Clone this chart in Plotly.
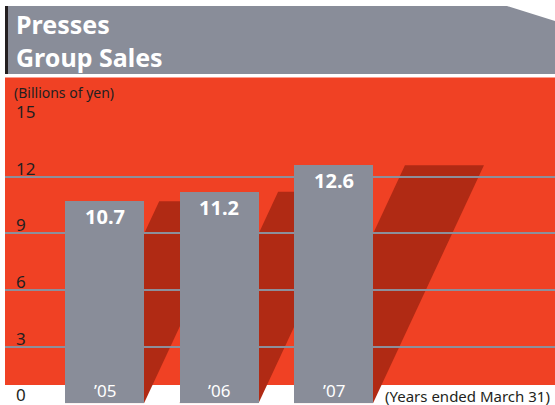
import plotly.graph_objects as go

# Presses Group sales, billions of yen
years = ["’05", "’06", "’07"]
sales = [10.7, 11.2, 12.6]
value_labels = ["10.7", "11.2", "12.6"]
y_ticks = [0, 3, 6, 9, 12, 15]
y_tick_labels = ["0", "3", "6", "9", "12", "15"]

RED = "#f04124"
SHADOW = "#b02a14"
GREY = "#898d99"
TEXT = "#231f20"
FONT = "Noto Sans"

W, H = 555, 405
BAR_W = 0.69          # bar width in category units
SHEAR = 0.0769        # horizontal lean of the shadow per unit of value

x_pos = list(range(len(years)))

fig = go.Figure()
fig.add_trace(go.Bar(
    x=x_pos, y=sales, width=BAR_W,
    marker=dict(color=GREY, line=dict(width=0)),
    hoverinfo="skip", cliponaxis=False,
))

shapes = []
# title banner with clipped top-right corner
shapes.append(dict(
    type="path", xref="paper", yref="paper", layer="below",
    path=f"M {5/W},{1-6/H} L {507/W},{1-6/H} L 1,{1-21/H} L 1,{1-74/H} L {5/W},{1-74/H} Z",
    fillcolor=GREY, line=dict(width=0),
))
shapes.append(dict(
    type="rect", xref="paper", yref="paper", layer="below",
    x0=5/W, x1=8/W, y0=1-74/H, y1=1-6/H,
    fillcolor="#231f20", line=dict(width=0),
))
# red panel behind the chart
shapes.append(dict(
    type="rect", xref="paper", yref="paper", layer="below",
    x0=5/W, x1=1, y0=1-385/H, y1=1-77.5/H,
    fillcolor=RED, line=dict(width=0),
))
# slanted shadows cast by each bar
for xi, v in zip(x_pos, sales):
    x0, x1 = xi - BAR_W/2, xi + BAR_W/2
    s = v * SHEAR
    shapes.append(dict(
        type="path", xref="x", yref="y", layer="below",
        path=f"M {x0},0 L {x1},0 L {x1+s},{v} L {x0+s},{v} Z",
        fillcolor=SHADOW, line=dict(width=0),
    ))

annotations = []
annotations.append(dict(
    xref="paper", yref="paper", x=14/W, y=1-40/H, xanchor="left", yanchor="middle",
    align="left", text="<b>Presses<br>Group Sales</b>", showarrow=False,
    font=dict(family=FONT, size=25, color="white"),
))
annotations.append(dict(
    xref="paper", yref="paper", x=12/W, y=1-92/H, xanchor="left", yanchor="middle",
    text="(Billions of yen)", showarrow=False,
    font=dict(family=FONT, size=14, color=TEXT),
))
annotations.append(dict(
    xref="paper", yref="paper", x=383/W, y=1-396/H, xanchor="left", yanchor="middle",
    text="(Years ended March 31)", showarrow=False,
    font=dict(family=FONT, size=15, color=TEXT),
))
for t, lab in zip(y_ticks, y_tick_labels):
    annotations.append(dict(
        xref="paper", yref="y", x=14/W, y=t, xanchor="left", yanchor="bottom",
        yshift=-5, text=lab, showarrow=False,
        font=dict(family=FONT, size=17, color=TEXT),
    ))
for xi, v, lab, yr in zip(x_pos, sales, value_labels, years):
    annotations.append(dict(
        x=xi, y=v, xanchor="center", yanchor="top", yshift=0,
        text=f"<b>{lab}</b>", showarrow=False,
        font=dict(family=FONT, size=20, color="white"),
    ))
    annotations.append(dict(
        x=xi, y=0, xanchor="center", yanchor="bottom", yshift=-1,
        text=yr, showarrow=False,
        font=dict(family=FONT, size=17, color="white"),
    ))

unit = 114.5
x_left = -99.5 / unit
x_right = (W - 104.5) / unit

fig.update_layout(
    width=W, height=H,
    margin=dict(l=0, r=0, t=0, b=0),
    paper_bgcolor="white", plot_bgcolor="rgba(0,0,0,0)",
    showlegend=False,
    shapes=shapes, annotations=annotations,
    xaxis=dict(domain=[5/W, 1], range=[x_left, x_right], showgrid=False,
               showticklabels=False, zeroline=False, fixedrange=True),
    yaxis=dict(domain=[(H-403.3)/H, (H-120)/H], range=[0, 15],
               tickvals=y_ticks[1:], showticklabels=False,
               showgrid=True, gridcolor="#8c8f9b", gridwidth=1.5,
               zeroline=False, fixedrange=True),
    bargap=0,
)

fig.write_html("out.html")
